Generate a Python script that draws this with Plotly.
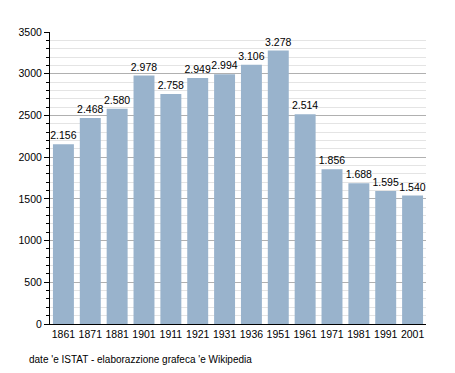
import plotly.graph_objects as go

years = ["1861", "1871", "1881", "1901", "1911", "1921", "1931", "1936", "1951", "1961", "1971", "1981", "1991", "2001"]
population = [2156, 2468, 2580, 2978, 2758, 2949, 2994, 3106, 3278, 2514, 1856, 1688, 1595, 1540]
source_note = "date 'e ISTAT - elaborazzione grafeca 'e Wikipedia"

labels = [f"{v:,}".replace(",", ".") for v in population]

fig = go.Figure(go.Bar(
    x=years, y=population,
    text=labels, textposition="outside", cliponaxis=False, constraintext="none",
    textfont=dict(size=10.5, color="black"),
    marker=dict(color="#99b3cc", line=dict(width=0)),
    hoverinfo="skip",
))

fig.update_layout(
    width=455, height=373,
    margin=dict(l=50, r=29, t=32, b=49),
    paper_bgcolor="white", plot_bgcolor="white",
    font=dict(family="Liberation Sans, Arial, sans-serif", size=10.5, color="black"),
    bargap=0.22,
    showlegend=False,
    xaxis=dict(type="category", showline=True, linecolor="black", linewidth=1,
               ticks="", tickfont=dict(size=10.5), showgrid=False),
    yaxis=dict(range=[0, 3500], dtick=500, showline=True, linecolor="black", linewidth=1,
               ticks="outside", ticklen=5, tickcolor="black",
               showgrid=True, gridcolor="#b0b0b0", gridwidth=1,
               zeroline=False, tickfont=dict(size=10.5),
               minor=dict(dtick=100, ticks="outside", ticklen=3, tickcolor="black",
                          showgrid=True, gridcolor="#e4e4e4", gridwidth=1)),
    annotations=[dict(text=source_note, xref="paper", yref="paper",
                      x=-0.06, y=-0.095, xanchor="left", yanchor="top",
                      showarrow=False, font=dict(size=10, color="black"))],
)

fig.write_html("out.html", config={"displayModeBar": False},
               post_script="document.body.style.margin='0';")
